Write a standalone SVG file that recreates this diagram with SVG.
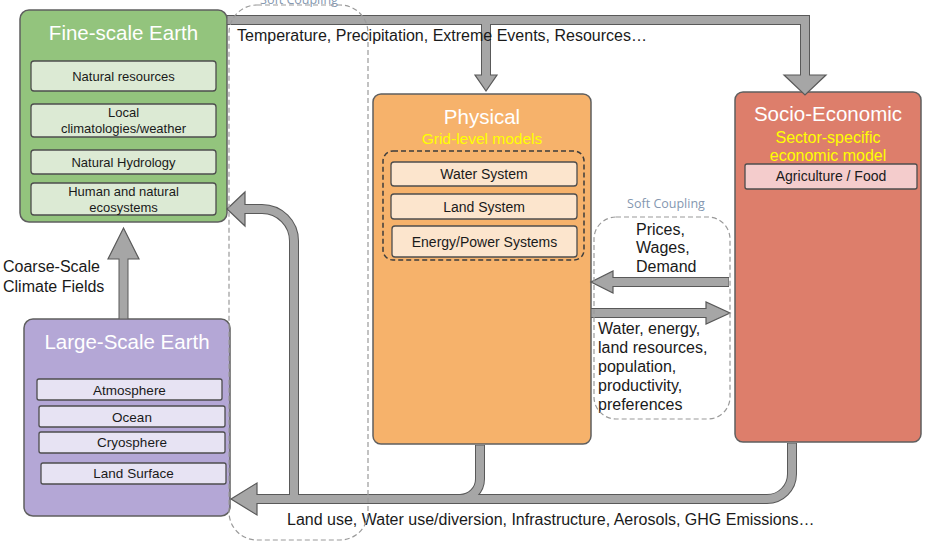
<svg xmlns="http://www.w3.org/2000/svg" width="930" height="541" viewBox="0 0 930 541">
<style>
text{font-family:"Liberation Sans",Arial,sans-serif;}
.title{font-size:20.5px;fill:#ffffff;text-anchor:middle}
.sub{font-size:15.5px;fill:#ffff00;text-anchor:middle}
.item{font-size:13px;fill:#1a1a1a;text-anchor:middle}
.item14{font-size:14px;fill:#1a1a1a;text-anchor:middle}
.lbl{font-size:16px;fill:#1a1a1a}
.box{stroke:#5f5f5f;stroke-width:1.5}
.ibox{stroke:#4d4d4d;stroke-width:1.3}
.soft{fill:none;stroke:#9a9a9a;stroke-width:1.2;stroke-dasharray:5 3}
.softlbl{font-family:"Open Sans",sans-serif;font-size:12.5px;fill:#8497b0;text-anchor:middle}
.out{fill:none;stroke:#595959;stroke-width:10}
.in{fill:none;stroke:#a6a6a6;stroke-width:8}
.head{fill:#a6a6a6;stroke:#595959;stroke-width:1.2;stroke-linejoin:miter}
</style>
<rect width="930" height="541" fill="#ffffff"/>

<g id="fine-scale-earth">
  <rect class="box" x="20" y="10" width="207" height="212" rx="9" fill="#93c47d"/>
  <text class="title" x="123.5" y="40">Fine-scale Earth</text>
  <rect class="ibox" x="31" y="61" width="185" height="30" rx="3" fill="#dcead4"/>
  <text class="item" x="123.5" y="81">Natural resources</text>
  <rect class="ibox" x="31" y="104" width="185" height="33" rx="3" fill="#dcead4"/>
  <text class="item" x="123.5" y="117">Local</text>
  <text class="item" x="123.5" y="133">climatologies/weather</text>
  <rect class="ibox" x="31" y="150" width="185" height="24" rx="3" fill="#dcead4"/>
  <text class="item" x="123.5" y="167">Natural Hydrology</text>
  <rect class="ibox" x="31" y="183" width="185" height="32" rx="3" fill="#dcead4"/>
  <text class="item" x="123.5" y="196">Human and natural</text>
  <text class="item" x="123.5" y="212">ecosystems</text>
</g>

<g id="large-scale-earth">
  <rect class="box" x="24" y="319" width="206" height="197" rx="9" fill="#b4a7d6"/>
  <text class="title" x="127" y="349">Large-Scale Earth</text>
  <rect class="ibox" x="37" y="379" width="185" height="21" rx="2" fill="#e7e3f3"/>
  <text class="item" style="font-size:13.5px" x="129.5" y="395">Atmosphere</text>
  <rect class="ibox" x="39" y="406" width="186" height="21" rx="2" fill="#e7e3f3"/>
  <text class="item" style="font-size:13.5px" x="132" y="422">Ocean</text>
  <rect class="ibox" x="39" y="432" width="186" height="21" rx="2" fill="#e7e3f3"/>
  <text class="item" style="font-size:13.5px" x="132" y="447">Cryosphere</text>
  <rect class="ibox" x="41" y="463" width="185" height="21" rx="2" fill="#e7e3f3"/>
  <text class="item" style="font-size:13.5px" x="133.5" y="478">Land Surface</text>
</g>

<g id="physical">
  <rect class="box" x="373" y="94" width="218" height="350" rx="8" fill="#f6b26b"/>
  <text class="title" x="482" y="124">Physical</text>
  <text class="sub" x="482" y="144">Grid-level models</text>
  <rect x="383" y="151" width="201" height="109" rx="10" fill="none" stroke="#3d3d3d" stroke-width="1.5" stroke-dasharray="5 3"/>
  <rect class="ibox" x="391" y="162" width="186" height="24" rx="3" fill="#fce5cd"/>
  <text class="item14" x="484" y="179">Water System</text>
  <rect class="ibox" x="391" y="194" width="186" height="25" rx="3" fill="#fce5cd"/>
  <text class="item14" x="484" y="212">Land System</text>
  <rect class="ibox" x="392" y="226" width="185" height="31" rx="3" fill="#fce5cd"/>
  <text class="item14" x="484.5" y="247">Energy/Power Systems</text>
</g>

<g id="socio-economic">
  <rect class="box" x="735" y="92" width="186" height="350" rx="8" fill="#dd7e6b"/>
  <text class="title" x="828" y="121">Socio-Economic</text>
  <text class="sub" style="font-size:16px" x="828" y="143">Sector-specific</text>
  <text class="sub" style="font-size:16px" x="828" y="161">economic model</text>
  <rect class="ibox" x="745" y="164" width="172" height="25" rx="2" fill="#f4cccc"/>
  <text class="item14" x="831" y="181">Agriculture / Food</text>
</g>

<g id="connectors">
  <!-- dark outlines -->
  <path class="out" d="M227 20 H805 V77"/>
  <path class="out" d="M486 20 V77"/>
  <path class="out" d="M123.5 319 V257"/>
  <path class="out" d="M792 443 V474 A25 25 0 0 1 767 499 H255"/>
  <path class="out" d="M480 445 V479 A20 20 0 0 1 460 499 H440"/>
  <path class="out" d="M294 499 V241 A32 32 0 0 0 262 209 H243"/>
  <path class="out" d="M729 282 H611"/>
  <path class="out" d="M591 313 H708"/>
  <!-- heads -->
  <polygon class="head" points="784,75 826,75 805,95"/>
  <polygon class="head" points="475,75 497,75 486,91"/>
  <polygon class="head" points="108,259 139,259 123.5,228"/>
  <polygon class="head" points="257,483 257,515 231,499"/>
  <polygon class="head" points="245,192 245,226 227,209"/>
  <polygon class="head" points="613,271 613,293 591,282"/>
  <polygon class="head" points="706,302 706,324 730,313"/>
  <!-- fills -->
  <path class="in" d="M227.5 20 H805 V77"/>
  <path class="in" d="M486 20 V77"/>
  <path class="in" d="M123.5 318.5 V257"/>
  <path class="in" d="M792 443.5 V474 A25 25 0 0 1 767 499 H255"/>
  <path class="in" d="M480 445.5 V479 A20 20 0 0 1 460 499 H440"/>
  <path class="in" d="M294 499 V241 A32 32 0 0 0 262 209 H243"/>
  <path class="in" d="M728.5 282 H611"/>
  <path class="in" d="M591.5 313 H708"/>
</g>

<g id="flow-labels">
  <text class="lbl" x="237" y="41">Temperature, Precipitation, Extreme Events, Resources…</text>
  <text class="lbl" x="3" y="272">Coarse-Scale</text>
  <text class="lbl" x="3" y="292">Climate Fields</text>
  <text class="lbl" x="636" y="235">Prices,</text>
  <text class="lbl" x="636" y="253">Wages,</text>
  <text class="lbl" x="636" y="272">Demand</text>
  <text class="lbl" x="598" y="334">Water, energy,</text>
  <text class="lbl" x="598" y="353">land resources,</text>
  <text class="lbl" x="598" y="372">population,</text>
  <text class="lbl" x="598" y="391">productivity,</text>
  <text class="lbl" x="598" y="410">preferences</text>
  <text class="lbl" x="287" y="525">Land use, Water use/diversion, Infrastructure, Aerosols, GHG Emissions…</text>
</g>

<g id="soft-coupling-left">
  <rect class="soft" x="229" y="5" width="139" height="535" rx="28"/>
  <text class="softlbl" x="299" y="4">Soft Coupling</text>
</g>

<g id="soft-coupling-right">
  <rect class="soft" x="594" y="217" width="136" height="202" rx="22"/>
  <text class="softlbl" x="666" y="208">Soft Coupling</text>
</g>
</svg>
